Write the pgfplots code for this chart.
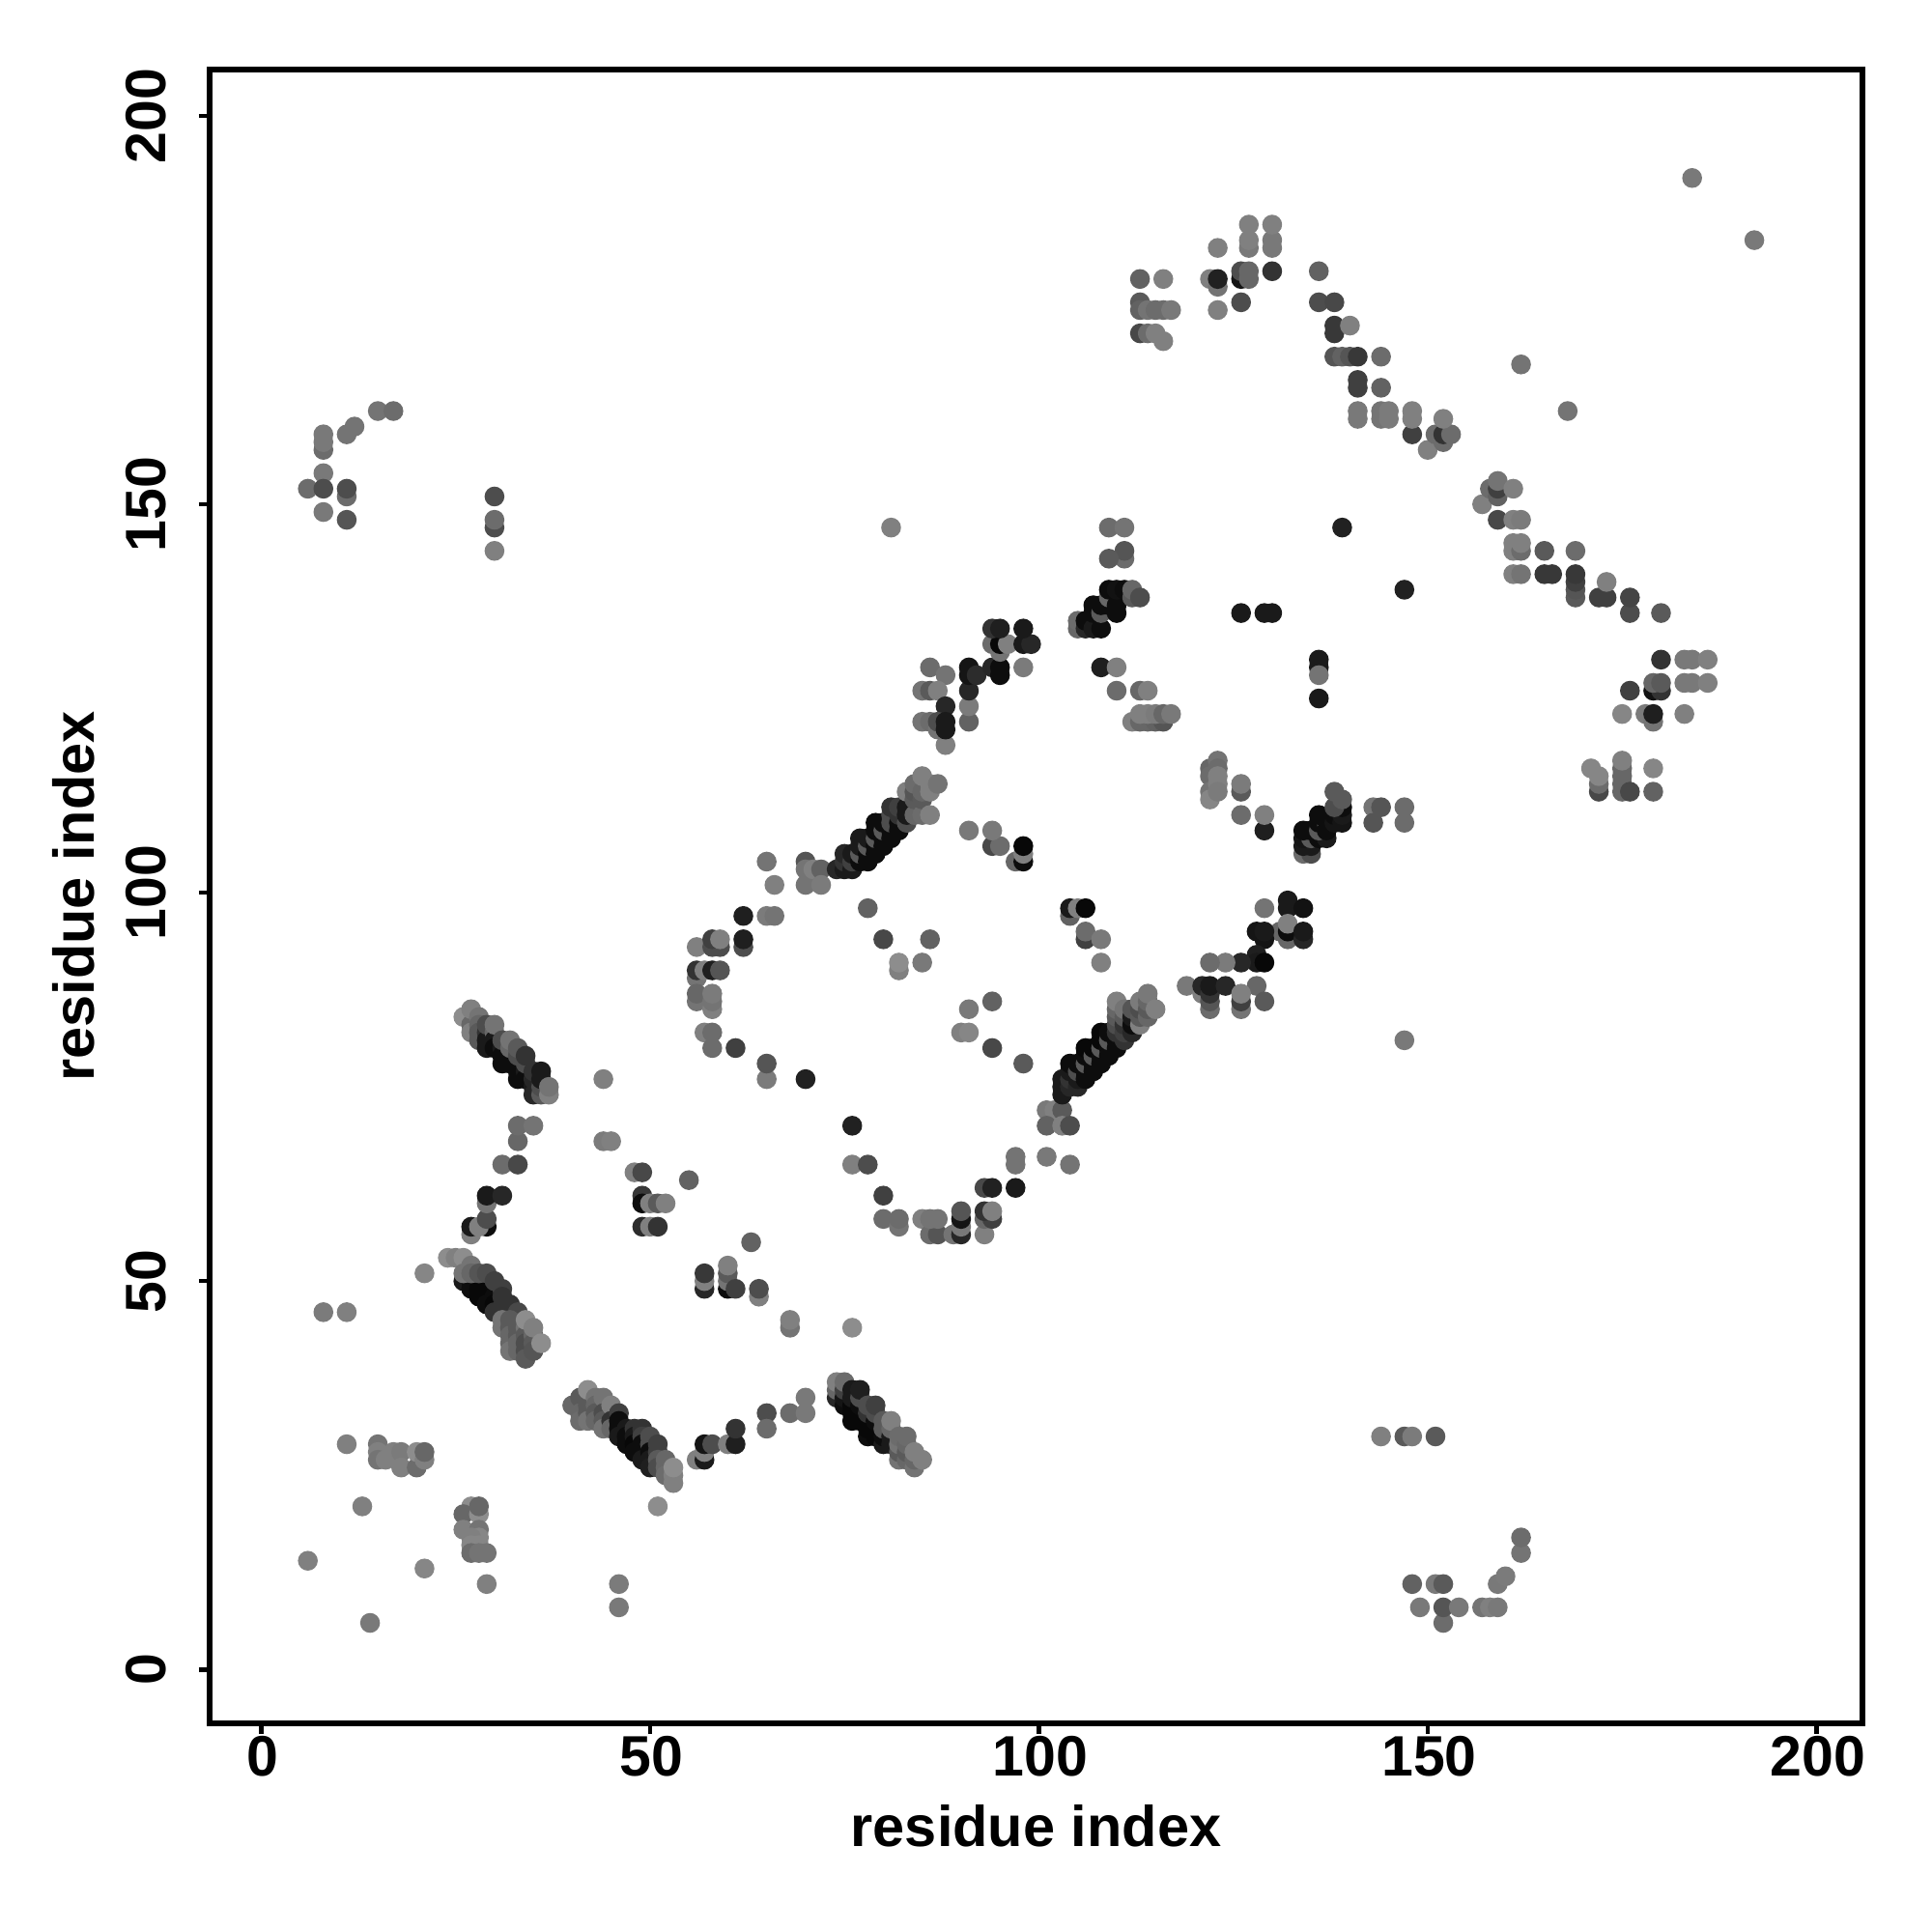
\documentclass[border=0pt]{standalone}
\usepackage{pgfplots}
\usepackage{fontspec}
\setmainfont{Liberation Sans}
\pgfplotsset{compat=1.18}
\begin{document}
\begin{tikzpicture}[x=1pt,y=1pt]
\useasboundingbox (-43.4,-43.2) rectangle (356.6,356.8);
\begin{axis}[
  at={(0,0)},anchor=south west,
  scale only axis,width=342.2pt,height=342.4pt,
  xmin=-6.63,xmax=205.9,ymin=-6.93,ymax=205.96,
  axis line style={line width=1.3pt,black},
  axis lines=box,
  xtick={0,50,100,150,200},ytick={0,50,100,150,200},
  xtick pos=bottom,ytick pos=left,
  tick align=outside,major tick length=2.2pt,
  tick style={line width=0.9pt,black},
  /pgf/number format/assume math mode=true,
  tick label style={font=\fontsize{11.8}{12}\selectfont\bfseries},
  xticklabel style={anchor=center,yshift=-4.7pt,xshift=0.3pt},
  yticklabel style={rotate=90,anchor=center,yshift=11pt},
  xlabel={residue index},ylabel={residue index},
  label style={font=\fontsize{11.9}{12}\selectfont\bfseries},
  xlabel style={at={(axis description cs:0.5,0)},anchor=center,yshift=-21.2pt},
  ylabel style={at={(axis description cs:0,0.5)},anchor=center,rotate=0,yshift=28.1pt},
  clip=true,
  colormap={g}{gray(0cm)=(0);gray(1cm)=(1)},
  point meta min=0,point meta max=1,
]
\addplot[only marks,scatter,scatter src=explicit,mark=*,mark size=1.85pt,
  scatter/use mapped color={draw=mapped color,fill=mapped color}]
 table[row sep=\\,x=x,y=y,meta=g]{
x y g\\
21 51 .52\\ 8 46 .48\\ 11 46 .5\\
26 50 .1\\ 27 50 .05\\ 27 49 .05\\ 28 49 .03\\ 28 48 .03\\ 29 48 .03\\ 29 47 .05\\ 30 48 .05\\ 30 47 .03\\ 31 47 .05\\ 31 46 .05\\ 32 46 .05\\ 30 46 .2\\ 33 45 .2\\
24 53 .55\\ 25 53 .5\\ 26 53 .55\\ 26 51 .45\\ 27 52 .45\\ 27 51 .4\\ 28 51 .33\\ 29 51 .3\\ 30 50 .25\\ 31 49 .25\\ 31 48 .2\\ 32 47 .2\\ 33 46 .28\\
31 45 .45\\ 31 44 .45\\ 32 45 .35\\ 32 44 .35\\ 32 43 .4\\ 32 42 .4\\ 32 41 .45\\ 33 44 .35\\ 33 43 .35\\ 33 42 .4\\ 33 41 .4\\ 34 44 .45\\ 34 43 .35\\ 34 42 .3\\ 34 41 .3\\ 34 40 .35\\ 35 43 .4\\ 35 42 .35\\ 35 41 .33\\ 34 45 .55\\ 35 44 .5\\ 36 42 .55\\
40 34 .4\\ 41 35 .35\\ 41 33 .4\\ 41 32 .42\\ 42 34 .35\\ 42 33 .35\\ 42 32 .45\\ 42 36 .55\\ 43 35 .45\\ 43 34 .4\\ 43 33 .35\\ 43 32 .4\\ 44 35 .45\\ 44 33 .3\\ 44 32 .35\\ 44 31 .45\\ 45 34 .5\\ 45 32 .2\\ 45 31 .4\\ 46 33 .25\\ 46 32 .05\\ 46 31 .05\\ 46 30 .1\\ 47 31 .1\\ 47 30 .05\\ 47 29 .05\\ 48 31 .2\\ 48 30 .1\\ 48 29 .03\\ 48 28 .05\\ 49 31 .2\\ 49 30 .25\\ 49 29 .05\\ 49 28 .05\\ 49 27 .1\\ 50 30 .3\\ 50 29 .3\\ 50 28 .05\\ 50 27 .1\\ 50 26 .12\\ 51 29 .25\\ 51 28 .25\\ 51 27 .35\\ 51 26 .3\\ 52 27 .4\\ 52 26 .4\\ 52 25 .42\\ 53 24 .5\\ 53 25 .5\\ 53 26 .55\\
11 29 .5\\ 15 29 .45\\ 15 28 .5\\ 15 27 .45\\ 16 27 .5\\ 17 28 .5\\ 18 28 .48\\ 18 26 .5\\ 20 26 .42\\ 20 28 .55\\ 21 27 .5\\ 21 28 .4\\
13 21 .5\\ 6 14 .5\\ 21 13 .52\\ 29 11 .5\\ 14 6 .47\\ 46 11 .48\\ 46 8 .47\\ 51 21 .55\\
27 21 .55\\ 26 20 .4\\ 28 20 .55\\ 28 21 .4\\ 26 18 .5\\ 28 18 .45\\ 28 17 .52\\ 27 17 .5\\ 27 16 .52\\ 28 16 .52\\ 27 15 .42\\ 28 15 .45\\ 29 15 .45\\
27 56 .5\\ 27 57 .1\\ 29 57 .05\\ 28 57 .5\\ 29 58 .3\\ 29 60 .45\\ 29 61 .1\\ 31 61 .15\\ 31 65 .42\\ 33 65 .28\\ 33 68 .4\\ 33 70 .42\\ 35 70 .45\\
26 84 .55\\ 27 83 .4\\ 27 82 .5\\ 27 85 .5\\ 28 84 .45\\ 28 83 .4\\ 28 82 .35\\ 28 81 .35\\ 29 82 .2\\ 29 81 .1\\ 29 80 .1\\ 29 83 .3\\ 30 82 .4\\ 30 81 .1\\ 30 80 .05\\ 30 83 .45\\ 31 80 .1\\ 31 79 .05\\ 31 78 .05\\ 31 81 .3\\ 32 79 .05\\ 32 78 .05\\ 32 80 .4\\ 32 81 .45\\ 33 78 .05\\ 33 77 .05\\ 33 76 .05\\ 33 79 .3\\ 33 80 .35\\ 34 77 .1\\ 34 76 .05\\ 34 78 .3\\ 34 79 .2\\ 35 75 .1\\ 35 74 .15\\ 35 76 .15\\ 35 77 .2\\ 36 74 .35\\ 36 75 .3\\ 36 76 .1\\ 36 77 .1\\ 37 74 .5\\ 37 75 .45\\
44 68 .48\\ 45 68 .5\\ 44 76 .5\\ 48 64 .5\\ 49 64 .28\\ 49 61 .22\\ 49 60 .05\\ 50 60 .5\\ 51 60 .35\\ 52 60 .5\\ 49 57 .17\\ 50 57 .5\\ 51 57 .2\\ 55 63 .38\\ 63 55 .38\\
57 49 .15\\ 57 50 .5\\ 57 51 .22\\ 60 49 .05\\ 60 50 .45\\ 60 51 .35\\ 60 52 .5\\ 61 49 .25\\ 64 48 .5\\ 64 49 .3\\ 68 44 .45\\ 68 45 .5\\ 76 44 .55\\
56 27 .5\\ 57 27 .1\\ 57 28 .5\\ 57 29 .08\\ 58 29 .3\\ 60 29 .5\\ 61 29 .12\\ 61 31 .2\\ 65 33 .3\\ 65 31 .42\\ 68 33 .42\\ 70 35 .47\\ 70 33 .47\\
74 35 .15\\ 74 36 .4\\ 74 37 .5\\ 75 34 .05\\ 75 35 .08\\ 75 36 .25\\ 75 37 .42\\ 76 32 .03\\ 76 33 .03\\ 76 34 .03\\ 76 35 .1\\ 76 36 .1\\ 77 32 .03\\ 77 33 .03\\ 77 34 .05\\ 77 35 .3\\ 77 36 .12\\ 78 30 .05\\ 78 31 .03\\ 78 32 .03\\ 78 33 .2\\ 78 34 .3\\ 79 30 .03\\ 79 31 .03\\ 79 32 .05\\ 79 33 .3\\ 79 34 .25\\ 80 29 .1\\ 80 30 .05\\ 80 31 .35\\ 80 32 .35\\ 81 29 .1\\ 81 30 .1\\ 81 31 .4\\ 81 32 .5\\ 82 27 .45\\ 82 28 .35\\ 82 29 .45\\ 82 30 .42\\ 83 27 .4\\ 83 28 .35\\ 83 29 .4\\ 83 30 .42\\ 84 26 .45\\ 84 27 .4\\ 84 28 .5\\ 85 27 .5\\
65 104 .45\\ 66 101 .5\\ 70 104 .33\\ 70 103 .45\\ 70 101 .45\\ 71 103 .5\\ 72 103 .38\\ 72 101 .48\\
62 97 .12\\ 65 97 .48\\ 66 97 .45\\ 62 93 .3\\ 62 94 .12\\ 56 93 .5\\ 58 93 .3\\ 59 93 .3\\ 58 94 .25\\ 59 94 .5\\ 56 89 .45\\ 56 90 .2\\ 57 90 .5\\ 58 90 .12\\ 59 90 .33\\ 56 86 .45\\ 56 87 .4\\ 58 85 .5\\ 58 86 .45\\ 58 87 .48\\ 57 82 .5\\ 58 82 .42\\ 58 80 .42\\ 61 80 .25\\ 65 76 .48\\ 65 78 .33\\ 70 76 .13\\ 76 70 .13\\ 76 65 .5\\ 78 65 .3\\
78 98 .38\\ 80 94 .28\\ 86 94 .38\\ 82 90 .5\\ 82 91 .55\\ 85 91 .47\\ 94 86 .38\\ 91 85 .47\\ 90 82 .5\\ 91 82 .52\\ 94 80 .28\\ 98 78 .35\\
93 62 .28\\ 94 62 .13\\ 97 62 .1\\ 97 65 .45\\ 97 66 .45\\ 101 66 .47\\ 104 65 .45\\ 101 72 .47\\ 102 72 .5\\ 103 72 .35\\ 101 70 .38\\ 103 70 .5\\ 104 70 .3\\
80 61 .25\\ 80 58 .42\\ 82 57 .45\\ 82 58 .42\\ 85 58 .5\\ 86 56 .42\\ 87 56 .33\\ 86 58 .45\\ 87 58 .45\\ 89 56 .45\\ 90 56 .15\\ 90 57 .47\\ 90 58 .08\\ 90 59 .33\\ 93 56 .5\\ 93 58 .4\\ 94 58 .25\\ 93 59 .2\\ 94 59 .5\\
86 129 .42\\ 88 128 .45\\ 85 126 .45\\ 86 126 .35\\ 87 126 .5\\ 88 124 .15\\ 88 119 .5\\ 85 122 .45\\ 86 122 .42\\ 87 121 .45\\ 87 122 .3\\ 88 121 .1\\ 88 122 .1\\ 91 122 .38\\ 91 124 .48\\ 91 126 .15\\ 91 128 .08\\ 91 129 .08\\ 92 128 .17\\ 94 129 .15\\ 95 128 .05\\ 95 129 .05\\ 98 129 .48\\ 94 132 .42\\ 95 131 .45\\ 95 132 .03\\ 96 132 .5\\ 94 134 .2\\ 95 134 .12\\ 98 132 .1\\ 99 132 .15\\ 98 134 .1\\
108 129 .12\\ 110 129 .5\\ 110 126 .42\\ 113 126 .4\\ 114 126 .5\\ 112 122 .5\\ 113 122 .4\\ 114 122 .4\\ 115 122 .38\\ 116 122 .33\\ 113 123 .5\\ 114 123 .5\\ 115 123 .48\\ 116 123 .4\\ 117 123 .47\\
126 136 .1\\ 129 136 .1\\ 130 136 .1\\
74 103 .15\\ 75 103 .1\\ 75 104 .2\\ 75 105 .15\\ 76 103 .1\\ 76 104 .25\\ 76 105 .1\\ 77 104 .05\\ 77 105 .35\\ 77 106 .1\\ 77 107 .1\\ 78 104 .05\\ 78 105 .05\\ 78 106 .35\\ 78 107 .1\\ 79 105 .05\\ 79 106 .05\\ 79 107 .35\\ 79 108 .05\\ 79 109 .05\\ 80 106 .05\\ 80 107 .05\\ 80 108 .35\\ 80 109 .05\\ 81 107 .05\\ 81 108 .05\\ 81 109 .3\\ 81 110 .3\\ 81 111 .2\\ 82 108 .05\\ 82 109 .05\\ 82 110 .2\\ 82 111 .25\\ 83 109 .3\\ 83 110 .1\\ 83 111 .1\\ 83 113 .5\\ 84 110 .4\\ 84 112 .35\\ 84 113 .33\\ 84 114 .42\\ 85 110 .42\\ 85 112 .35\\ 85 113 .4\\ 85 115 .5\\ 86 110 .5\\ 86 113 .5\\ 86 114 .5\\ 87 114 .45\\
91 108 .47\\ 94 106 .28\\ 95 106 .42\\ 94 108 .47\\ 97 104 .4\\ 98 104 .05\\ 98 105 .5\\ 98 106 .03\\ 81 147 .5\\
104 97 .38\\ 104 98 .1\\ 105 98 .5\\ 106 98 .03\\ 106 94 .25\\ 106 95 .42\\ 108 94 .47\\ 108 91 .5\\
122 116 .4\\ 122 115 .42\\ 122 113 .45\\ 122 112 .52\\ 123 117 .45\\ 123 116 .42\\ 123 115 .5\\ 123 114 .5\\ 123 113 .48\\ 126 113 .35\\ 126 114 .48\\ 126 110 .42\\ 129 108 .12\\ 129 110 .5\\
129 98 .45\\ 132 99 .1\\ 132 98 .1\\ 134 98 .07\\ 131 95 .4\\ 132 94 .4\\ 132 95 .05\\ 132 96 .5\\ 134 94 .15\\ 134 95 .1\\ 128 95 .08\\ 129 94 .08\\ 129 95 .1\\ 128 92 .12\\ 128 91 .1\\ 129 91 .03\\ 126 91 .15\\ 124 91 .48\\ 122 91 .42\\
119 88 .47\\ 121 87 .5\\ 121 88 .15\\ 122 85 .42\\ 122 86 .33\\ 122 87 .2\\ 122 88 .1\\ 124 88 .15\\ 128 88 .4\\ 126 85 .45\\ 126 86 .25\\ 126 87 .5\\ 129 86 .35\\
103 74 .1\\ 103 75 .1\\ 103 76 .1\\ 104 75 .15\\ 104 76 .2\\ 104 77 .1\\ 104 78 .05\\ 105 75 .15\\ 105 76 .1\\ 105 77 .3\\ 105 78 .05\\ 106 76 .05\\ 106 77 .05\\ 106 78 .35\\ 106 79 .05\\ 106 80 .03\\ 107 77 .05\\ 107 78 .05\\ 107 79 .35\\ 107 80 .03\\ 108 78 .05\\ 108 79 .05\\ 108 80 .35\\ 108 81 .03\\ 108 82 .03\\ 109 79 .05\\ 109 80 .05\\ 109 81 .35\\ 109 82 .05\\ 110 80 .05\\ 110 81 .05\\ 110 82 .2\\ 110 83 .3\\ 110 84 .35\\ 110 85 .4\\ 110 86 .5\\ 111 81 .2\\ 111 82 .25\\ 111 83 .2\\ 111 84 .35\\ 111 85 .45\\ 112 82 .15\\ 112 83 .05\\ 112 84 .1\\ 112 85 .33\\ 113 83 .5\\ 113 84 .35\\ 113 85 .3\\ 113 86 .48\\ 114 84 .4\\ 114 85 .35\\ 114 86 .4\\ 114 87 .47\\ 115 85 .5\\
113 179 .38\\ 116 179 .5\\ 113 176 .35\\ 113 175 .38\\ 114 175 .45\\ 115 175 .42\\ 116 175 .42\\ 117 175 .47\\ 113 172 .28\\ 114 172 .42\\ 115 172 .5\\ 116 171 .5\\
123 183 .5\\ 122 179 .5\\ 123 178 .45\\ 123 179 .13\\ 123 175 .5\\ 126 176 .3\\ 126 179 .08\\ 126 180 .3\\ 127 179 .4\\ 127 180 .4\\ 127 183 .47\\ 127 184 .5\\ 127 186 .5\\ 130 183 .47\\ 130 184 .47\\ 130 186 .5\\ 130 180 .2\\ 136 180 .38\\
136 176 .3\\ 138 176 .28\\ 138 172 .22\\ 138 173 .22\\ 140 173 .5\\ 138 169 .33\\ 139 169 .38\\ 140 169 .33\\ 141 169 .22\\ 144 169 .42\\ 141 165 .25\\ 141 166 .25\\ 144 165 .38\\ 141 161 .47\\ 141 162 .47\\ 144 161 .45\\ 144 162 .45\\ 145 161 .48\\ 145 162 .48\\ 148 159 .25\\ 148 161 .5\\ 148 162 .5\\ 150 157 .5\\ 152 158 .42\\ 151 159 .42\\ 152 159 .2\\ 153 159 .42\\ 152 161 .5\\ 162 168 .45\\ 168 162 .45\\
157 150 .5\\ 158 152 .42\\ 159 151 .38\\ 159 152 .25\\ 159 153 .45\\ 161 152 .5\\ 159 148 .28\\ 161 148 .5\\ 162 148 .48\\ 161 144 .5\\ 161 145 .5\\ 162 144 .42\\ 162 145 .5\\ 161 141 .5\\ 162 141 .45\\
109 147 .42\\ 111 147 .45\\ 111 143 .42\\ 111 144 .33\\ 109 143 .35\\ 139 147 .13\\ 147 139 .13\\
105 134 .4\\ 105 135 .42\\ 106 134 .15\\ 106 135 .05\\ 107 134 .1\\ 107 136 .05\\ 107 137 .05\\ 108 134 .05\\ 108 136 .35\\ 108 137 .05\\ 109 137 .05\\ 109 138 .4\\ 109 139 .05\\ 110 136 .05\\ 110 137 .05\\ 110 139 .07\\ 111 139 .05\\ 112 138 .35\\ 112 139 .4\\ 113 138 .3\\
136 125 .1\\ 136 129 .1\\ 136 130 .1\\ 136 128 .45\\
165 144 .35\\ 169 144 .42\\ 165 141 .22\\ 166 141 .22\\ 169 138 .35\\ 169 139 .33\\ 169 140 .25\\ 169 141 .22\\ 172 138 .25\\ 173 138 .25\\ 173 140 .5\\ 176 136 .3\\ 176 138 .27\\ 180 136 .35\\
180 130 .2\\ 183 130 .47\\ 184 130 .47\\ 186 130 .5\\ 183 127 .47\\ 184 127 .47\\ 186 127 .5\\ 179 126 .07\\ 180 126 .2\\ 179 127 .4\\ 180 127 .35\\ 176 126 .25\\ 175 123 .52\\ 178 123 .48\\ 179 122 .45\\ 179 123 .12\\ 183 123 .5\\
171 116 .52\\ 172 113 .28\\ 172 114 .42\\ 172 115 .52\\ 175 113 .4\\ 175 114 .4\\ 175 115 .4\\ 175 116 .4\\ 175 117 .5\\ 176 113 .28\\ 179 116 .52\\ 179 113 .38\\
143 111 .45\\ 144 111 .33\\ 147 111 .42\\ 143 109 .33\\ 147 109 .42\\ 147 81 .47\\
134 105 .42\\ 135 105 .3\\ 134 106 .1\\ 135 106 .1\\ 134 107 .08\\ 135 107 .35\\ 136 107 .05\\ 137 107 .1\\ 134 108 .05\\ 135 108 .05\\ 136 108 .35\\ 136 109 .05\\ 137 109 .35\\ 136 110 .05\\ 137 108 .05\\ 138 109 .08\\ 138 110 .05\\ 139 109 .08\\ 139 110 .1\\ 139 111 .05\\ 138 111 .3\\ 138 113 .35\\ 139 112 .35\\
144 30 .5\\ 147 30 .35\\ 148 30 .48\\ 151 30 .35\\ 148 11 .38\\ 151 11 .47\\ 152 11 .35\\ 149 8 .47\\ 152 6 .42\\ 152 8 .33\\ 154 8 .47\\ 157 8 .45\\ 158 8 .5\\ 159 8 .47\\ 159 11 .47\\ 160 12 .48\\ 162 15 .45\\ 162 17 .42\\
15 162 .45\\ 17 162 .42\\ 12 160 .45\\ 11 159 .45\\ 8 157 .42\\ 8 158 .47\\ 8 159 .47\\ 8 154 .47\\ 6 152 .42\\ 8 152 .3\\ 11 151 .42\\ 11 152 .3\\ 8 149 .47\\ 11 148 .33\\ 30 151 .3\\ 30 147 .3\\ 30 148 .42\\ 30 144 .5\\
184 192 .47\\ 192 184 .47\\
};
\end{axis}
\end{tikzpicture}
\end{document}
